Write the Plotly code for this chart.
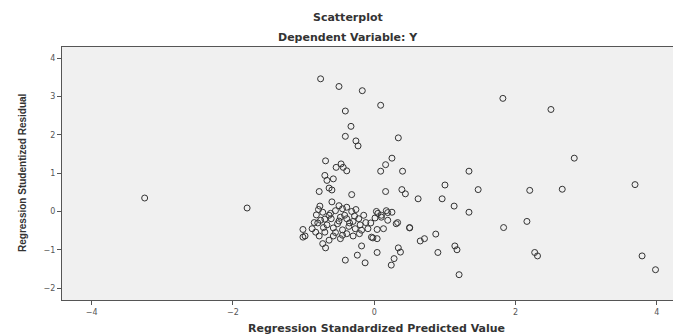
import plotly.graph_objects as go

# Regression Standardized Predicted Value
pred = [-0.76, -0.50, -0.17, 0.09, -0.41, -0.33, -0.41, -0.26, -0.23, 0.34,
        1.82, 2.50, 2.83, 1.34, 1.47, 2.20, 2.66, 3.69, 1.00, -3.25,
        -1.80, 0.96, 1.13, 1.34, 1.83, 2.16, 2.27, 2.31, 3.79, 3.98,
        1.20, 1.14, 1.17, 0.90, 0.87, 0.71, 0.65, 0.62, 0.44, 0.39,
        0.16, 0.40, 0.09, 0.16, 0.25, 0.50, 0.31, 0.25, 0.19, 0.10,
        0.01, -0.02, -0.18, 0.04, 0.34, 0.37, 0.28, 0.24, -0.24, -0.13,
        -0.41, -0.69, -0.78, -1.01, -0.98, -0.83, -0.69, -0.47, -0.44, -0.39,
        -0.54, -0.70, -0.58, -0.67, -0.64, -0.60, -0.78, -0.32, -0.77, -0.73,
        -0.82, -0.64, -0.55, -0.45, -0.39, -0.32, -0.26, -0.48, -0.39, -0.30,
        -0.22, -0.76, -0.85, -0.67, -0.58, -0.45, -0.36, -0.27, -0.18, -0.09,
        0.04, 0.13, -0.58, -0.48, -0.64, -0.73, -0.39, -0.30, -0.04, 0.04,
        -1.01, -0.88, -0.70, 0.10, 0.19, -0.12, -0.21, -0.79, -0.61, -0.52,
        -0.70, -0.62, -0.50, -0.42, -0.35, -0.28, -0.20, -0.55, -0.45, -0.72,
        -0.80, -0.15, -0.05, 0.05, 0.33, 0.50, 0.03, 0.17, -0.60, -0.50]

# Regression Studentized Residual
resid = [3.46, 3.26, 3.15, 2.77, 2.62, 2.22, 1.96, 1.84, 1.71, 1.92,
         2.95, 2.66, 1.39, 1.05, 0.57, 0.55, 0.58, 0.70, 0.69, 0.35,
         0.09, 0.33, 0.14, -0.02, -0.42, -0.26, -1.07, -1.16, -1.16, -1.52,
         -1.65, -0.90, -1.00, -1.07, -0.59, -0.71, -0.77, 0.33, 0.46, 0.57,
         0.52, 1.05, 1.05, 1.22, 1.39, -0.43, -0.32, -0.02, -0.03, -0.15,
         -0.17, -0.69, -0.90, -1.07, -0.95, -1.06, -1.23, -1.40, -1.14, -1.34,
         -1.27, -0.95, -0.64, -0.47, -0.64, -0.54, 1.32, 1.24, 1.15, 1.06,
         1.15, 0.94, 0.85, 0.81, 0.61, 0.56, 0.52, 0.44, 0.14, -0.02,
         -0.09, -0.10, 0.02, 0.07, 0.11, 0.00, 0.05, -0.15, -0.19, -0.26,
         -0.19, -0.23, -0.29, -0.35, -0.43, -0.48, -0.39, -0.45, -0.49, -0.45,
         -0.47, -0.45, -0.64, -0.71, -0.75, -0.84, -0.58, -0.64, -0.67, -0.71,
         -0.67, -0.45, -0.54, -0.10, -0.23, -0.29, -0.58, 0.05, -0.19, -0.32,
         -0.20, -0.05, -0.25, -0.10, -0.30, -0.12, -0.35, -0.55, -0.62, -0.42,
         -0.30, -0.10, -0.30, -0.05, -0.29, -0.42, 0.00, 0.02, 0.25, 0.15]

x_ticks = [-4, -2, 0, 2, 4]
y_ticks = [-2, -1, 0, 1, 2, 3, 4]

# page body adds an 8px offset; figure sized to fit the window
OFF = 8
W, H = 681 - OFF, 336 - OFF
L, R, T, B = 62 - OFF, 5, 47 - OFF, H - (300 - OFF)

fig = go.Figure()
fig.add_trace(go.Scatter(
    x=pred, y=resid, mode="markers",
    marker=dict(symbol="circle-open", size=6, color="#333333", line=dict(width=1)),
    showlegend=False, hoverinfo="skip"))

font_family = "Liberation Sans, Arial"
wide_family = "DejaVu Sans"
axis_common = dict(showgrid=False, zeroline=False, showline=True, linecolor="#555555",
                   linewidth=1, mirror=True, ticks="outside", ticklen=4, tickcolor="#555555",
                   tickfont=dict(family=wide_family, size=8, color="#555555"))

fig.update_layout(
    width=W, height=H,
    margin=dict(l=L, r=R, t=T, b=B, autoexpand=False),
    paper_bgcolor="white", plot_bgcolor="#f0f0f0",
    xaxis=dict(range=[-4.42, 4.27], tickvals=x_ticks, **axis_common),
    yaxis=dict(range=[-2.31, 4.29], tickvals=y_ticks, **axis_common),
)

plot_w = W - L - R
plot_h = H - T - B

def px(x_screen):
    return (x_screen - OFF - L) / plot_w

def py(y_screen):
    return (H - B - (y_screen - OFF)) / plot_h

def label(text, xs, ys, angle=0, family=wide_family, size=11):
    fig.add_annotation(text=text, x=px(xs), y=py(ys), xref="paper", yref="paper",
                       xanchor="center", yanchor="middle", showarrow=False, textangle=angle,
                       font=dict(family=family, size=size, color="#333333"))

label("<b>Scatterplot</b>", 348, 17)
label("<b>Dependent Variable: Y</b>", 348, 37)
label("<b>Regression Standardized Predicted Value</b>", 376, 328)
label("<b>Regression Studentized Residual</b>", 22, 173, -90, font_family, 10)

fig.write_html("out.html")
